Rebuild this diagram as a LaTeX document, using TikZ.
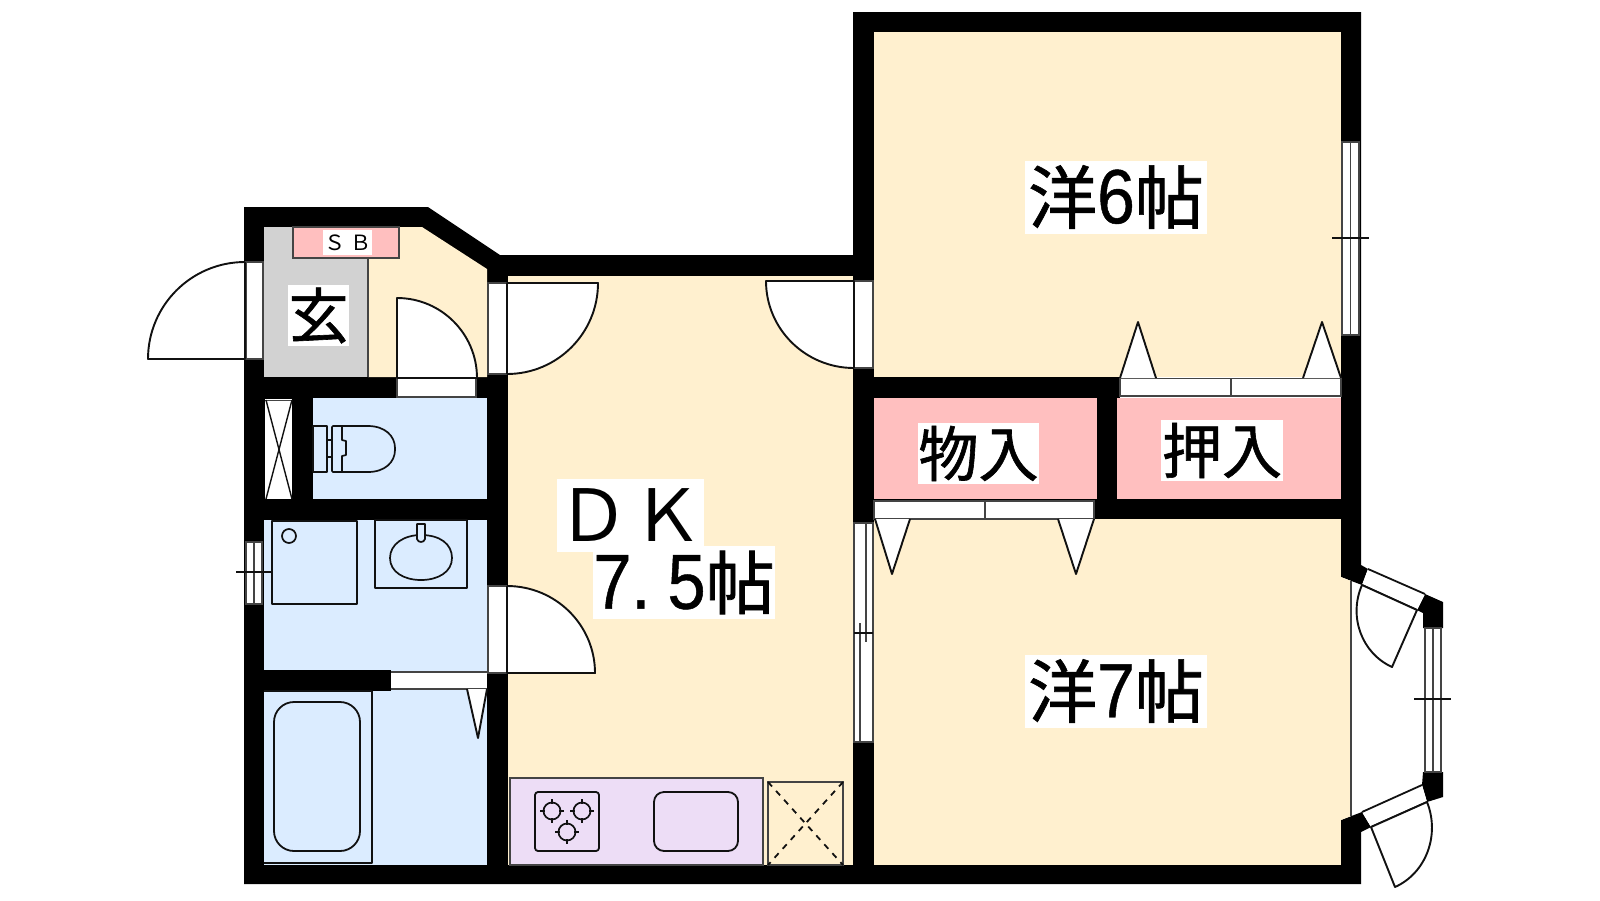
\documentclass[tikz,border=0pt]{standalone}
\usepackage{fontspec}
\usetikzlibrary{calc}
\newfontfamily\cjk[FakeBold=1]{Noto Sans CJK JP}
\newfontfamily\cjkthin{Noto Sans CJK JP}
\newfontfamily\dgt[FakeStretch=0.88,FakeBold=0.6]{Liberation Sans}
\definecolor{wyellow}{HTML}{FFF0CF}
\definecolor{wblue}{HTML}{DBECFF}
\definecolor{wpink}{HTML}{FFBFBF}
\definecolor{wgrey}{HTML}{D2D2D2}
\definecolor{wpurple}{HTML}{EDDDF6}
\definecolor{wline}{HTML}{111111}
\definecolor{wsoft}{HTML}{444444}
\tikzset{
  wall/.style={fill=black,draw=none},
  ln/.style={draw=wline,line width=1.7pt,line join=round},
  soft/.style={draw=wsoft,line width=1.7pt},
  opening/.style={fill=white,draw=wsoft,line width=1.7pt},
  leaf/.style={fill=white,draw=wline,line width=1.9pt,line join=round},
  slidetri/.style={fill=white,draw=wline,line width=1.9pt,line join=round},
  lab/.style={fill=white,inner sep=0pt,text=black,align=center},
}
\newcommand{\doorleaf}[3]{% hinge, leaf end, far end
  \draw[leaf] #3 -- #1 -- #2 .. controls ($#2+0.5523*#3-0.5523*#1$) and ($#3+0.5523*#2-0.5523*#1$) .. #3;}
\newcommand{\burner}[2]{%
  \draw[ln] (#1,#2) circle[radius=8.5pt];
  \draw[ln] (#1-12,#2)--(#1-7,#2) (#1+7,#2)--(#1+12,#2) (#1,#2-12)--(#1,#2-7) (#1,#2+7)--(#1,#2+12);}
\begin{document}
\begin{tikzpicture}[x=1pt,y=-1pt]
\useasboundingbox (0,0) rectangle (1600,900);
\fill[white] (0,0) rectangle (1600,900);
% black silhouette
\fill[wall] (244,207)--(428,207)--(500,255)--(853,255)--(853,12)--(1361,12)--(1361,565)--(1368,569)--(1362,585)--(1341,577)--(1341,820)--(1362,812)--(1371,827)--(1361,832)--(1361,884)--(244,884)--cycle;
% rooms
\fill[wyellow] (368,227)--(422,227)--(487,269)--(487,377)--(368,377)--cycle;
\fill[wgrey] (264,227) rectangle (368,377);
\fill[wyellow] (508,276) rectangle (853,865);
\fill[wyellow] (874,32) rectangle (1341,377);
\fill[wyellow] (874,519) rectangle (1341,865);
\fill[wyellow] (1341,577)--(1351,581)--(1351,816)--(1341,820)--cycle;
\draw[soft] (1351,581)--(1351,816);
\fill[wblue] (313,398) rectangle (487,499);
\fill[wblue] (264,520) rectangle (487,670);
\fill[wblue] (264,691) rectangle (487,865);
\fill[wblue] (391,670) rectangle (487,691);
\fill[wpink] (874,398) rectangle (1097,499);
\fill[wpink] (1117,398) rectangle (1341,499);
% entry details
\draw[soft] (368,258)--(368,377);
\path[fill=wpink,draw=wsoft,line width=1.5pt] (293,227) rectangle (399,258);
% shaft
\fill[white] (265,399) rectangle (292,499);
\draw[soft,line width=1pt] (265,400)--(292,400);
\draw[ln,line width=1.4pt] (266,400)--(292,499) (292,400)--(266,499);
% toilet
\draw[ln,fill=wblue] (313,426) rectangle (327,472);
\draw[ln,fill=wblue] (327,440) rectangle (332,457);
\draw[ln,fill=wblue,rounded corners=1pt] (332,426)--(367,426) .. controls (385,426) and (395,436) .. (395,449) .. controls (395,462) and (385,472) .. (367,472)--(332,472)--cycle;
\draw[ln] (342,426)--(342,440)--(346,441)--(346,455)--(342,456)--(342,472);
% wash room
\draw[ln] (272,521) rectangle (357,604);
\draw[ln] (289,536) circle[radius=7pt];
\draw[ln] (375,520) rectangle (467,588);
\draw[ln] (390,558) .. controls (390,544) and (404,535) .. (421,535) .. controls (440,535) and (452,544) .. (452,558) .. controls (452,572) and (438,580) .. (421,580) .. controls (404,580) and (390,572) .. (390,558) -- cycle;
\draw[ln,fill=wblue] (417,524)--(425,524)--(425,539) .. controls (424,543) and (418,543) .. (417,539)--cycle;
% bath
\draw[ln] (264,691)--(372,691)--(372,863)--(264,863);
\draw[ln,rounded corners=20pt,line width=1.8pt] (274,702) rectangle (360,851);
% kitchen
\path[fill=wpurple,draw=wsoft,line width=1.7pt] (510,778) rectangle (763,865);
\draw[ln,rounded corners=3pt,line width=1.8pt] (535,792) rectangle (599,851);
\burner{552}{811}
\burner{582}{811}
\burner{567}{832}
\draw[ln,rounded corners=10pt,line width=1.8pt] (654,792) rectangle (738,851);
\draw[soft] (768,782) rectangle (843,865);
\draw[wline,line width=1.8pt,dash pattern=on 6pt off 6pt] (768,782)--(843,865) (843,782)--(768,865);
% windows
\path[opening] (1342,142) rectangle (1359,335);
\draw[soft] (1350.5,142)--(1350.5,335);
\draw[ln] (1332,238)--(1369,238);
\path[opening] (854,523) rectangle (873,742);
\draw[soft] (866,523)--(866,642);
\draw[soft] (860,623)--(860,742);
\draw[ln,line width=1.3pt] (854,633)--(873,633);
\path[opening] (246,542) rectangle (262,604);
\draw[soft] (254,542)--(254,604);
\draw[ln,line width=1.3pt] (236,572)--(272,572);
% bay
\fill[wall] (1425,594)--(1443,602)--(1443,628)--(1423,628)--(1423,613)--(1417,610)--cycle;
\fill[wall] (1423,772)--(1443,772)--(1443,797)--(1427,802)--(1422,785)--cycle;
\path[opening] (1425,628) rectangle (1441,772);
\draw[soft] (1433,628)--(1433,772);
\draw[ln] (1414,699)--(1451,699);
\fill[white] (1368,569)--(1425,594)--(1417,610)--(1362,585)--cycle;
\fill[white] (1422,785)--(1362,812)--(1371,827)--(1427,802)--cycle;
\draw[ln,line width=1.8pt] (1368,569)--(1425,594) (1362,585)--(1417,610);
\draw[ln,line width=1.8pt] (1422,785)--(1362,812) (1371,827)--(1427,802);
% door openings
\path[opening] (246,262) rectangle (263,359);
\path[opening] (397,378) rectangle (476,397);
\path[opening] (488,283) rectangle (507,374);
\path[opening] (488,586) rectangle (507,673);
\path[opening] (854,281) rectangle (873,368);
% sliding doors
\fill[white] (391,671) rectangle (487,690);
\draw[soft] (391,672)--(487,672) (391,689)--(487,689);
\fill[white] (874,500) rectangle (1094,520);
\draw[soft] (874,501) rectangle (1094,519);
\draw[soft] (985,501)--(985,519);
\fill[white] (1120,377) rectangle (1341,398);
\draw[soft] (1120,378.5) rectangle (1341,396);
\draw[soft] (1231,378.5)--(1231,396);
% triangles
\draw[slidetri] (467,689)--(478,738)--(487,689);
\draw[slidetri] (875,519)--(892,574)--(910,519);
\draw[slidetri] (1058,519)--(1076,574)--(1094,519);
\draw[slidetri] (1120,378)--(1138,322)--(1156,378);
\draw[slidetri] (1303,378)--(1322,322)--(1341,378);
% doors
\doorleaf{(245,359)}{(148,359)}{(245,262)}
\doorleaf{(397,378)}{(397,298)}{(477,378)}
\doorleaf{(507,283)}{(598,283)}{(507,374)}
\doorleaf{(507,673)}{(595,673)}{(507,586)}
\doorleaf{(854,281)}{(766,281)}{(854,368)}
\doorleaf{(1417,610)}{(1392,667)}{(1362,585)}
\doorleaf{(1371,827)}{(1395,887)}{(1427,802)}
% labels
\node[lab,minimum width=49pt,minimum height=25pt] (sb) at (347.5,242.5) {\cjkthin\fontsize{21}{21}\selectfont Ｓ\hspace{5pt}Ｂ};
\node[lab,minimum width=61pt,minimum height=61pt] (gen) at (318.5,315.5) {\cjk\fontsize{60}{60}\selectfont 玄};
\node[lab,minimum width=182pt,minimum height=73pt] (r6) at (1116,197) {\cjk\fontsize{69}{69}\selectfont 洋{\dgt\fontsize{77}{69}\selectfont 6}帖};
\node[lab,minimum width=182pt,minimum height=73pt] (r7) at (1116,691) {\cjk\fontsize{69}{69}\selectfont 洋{\dgt\fontsize{77}{69}\selectfont 7}帖};
\node[lab,minimum width=121pt,minimum height=61pt] (mono) at (978.5,453.5) {\cjk\fontsize{60}{60}\selectfont 物入};
\node[lab,minimum width=122pt,minimum height=61pt] (oshi) at (1222,450.5) {\cjk\fontsize{60}{60}\selectfont 押入};
\node[lab,minimum width=147pt,minimum height=73pt] (dk) at (630.5,515.5) {\cjkthin\fontsize{72}{72}\selectfont Ｄ\hspace{3pt}Ｋ};
\node[lab,minimum width=182pt,minimum height=73pt] (dk2) at (684,582.5) {{\dgt\fontsize{78}{69}\selectfont 7.\hspace{17pt}5}\cjk\fontsize{69}{69}\selectfont 帖};
\end{tikzpicture}
\end{document}
